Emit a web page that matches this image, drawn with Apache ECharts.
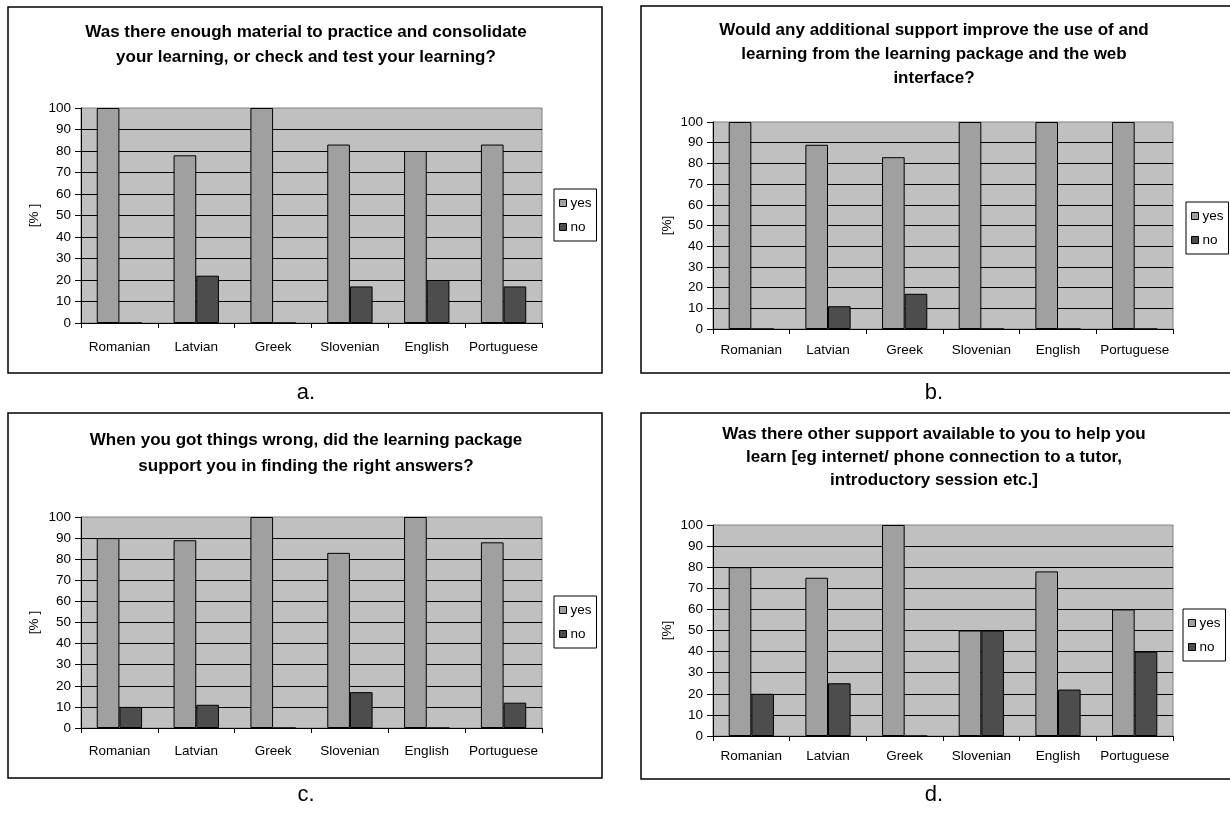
<!DOCTYPE html>
<html><head><meta charset="utf-8">
<script src="https://cdn.jsdelivr.net/npm/echarts@6/dist/echarts.min.js"></script>
<style>html,body{margin:0;padding:0;background:#fff}#c{width:1230px;height:813px}</style>
</head><body><div id="c"></div>
<script>
// ---- data ----
const categories = ['Romanian', 'Latvian', 'Greek', 'Slovenian', 'English', 'Portuguese'];
const seriesNames = ['yes', 'no'];
const yesA = [100, 78, 100, 83, 80, 83];
const noA  = [0, 22, 0, 17, 20, 17];
const yesB = [100, 89, 83, 100, 100, 100];
const noB  = [0, 11, 17, 0, 0, 0];
const yesC = [90, 89, 100, 83, 100, 88];
const noC  = [10, 11, 0, 17, 0, 12];
const yesD = [80, 75, 100, 50, 78, 60];
const noD  = [20, 25, 0, 50, 22, 40];
const titleA = 'Was there enough material to practice and consolidate\nyour learning, or check and test your learning?';
const titleB = 'Would any additional support improve the use of and\nlearning from the learning package and the web\ninterface?';
const titleC = 'When you got things wrong, did the learning package\nsupport you in finding the right answers?';
const titleD = 'Was there other support available to you to help you\nlearn [eg internet/ phone connection to a tutor,\nintroductory session etc.]';
const panelLabels = ['a.', 'b.', 'c.', 'd.'];
const yAxisNames = ['[% ]', '[%]', '[% ]', '[%]'];
const yMin = 0, yMax = 100, yStep = 10;

// ---- layout / style ----
const FONT = '"Liberation Sans", Arial, sans-serif';
const LBL = 13.5;
const panels = [
  { yes: yesA, no: noA, title: titleA, grid: {left: 81, top: 108, width: 461, height: 215},
    box: [8, 7, 594, 366], tx: 306, ttop: 20, tlh: 25, lg: [554, 189], lab: [306, 393], xm: 17, ng: 40 },
  { yes: yesB, no: noB, title: titleB, grid: {left: 713, top: 122, width: 460, height: 207},
    box: [641, 6, 600, 367], tx: 934, ttop: 18, tlh: 24, lg: [1186, 202], lab: [934, 393], xm: 14, ng: 39 },
  { yes: yesC, no: noC, title: titleC, grid: {left: 81, top: 517, width: 461, height: 211},
    box: [8, 413, 594, 365], tx: 306, ttop: 427, tlh: 26, lg: [554, 596], lab: [306, 795], xm: 16, ng: 40 },
  { yes: yesD, no: noD, title: titleD, grid: {left: 713, top: 525, width: 460, height: 211},
    box: [641, 413, 600, 366], tx: 934, ttop: 423, tlh: 23, lg: [1183, 609], lab: [934, 795], xm: 13, ng: 39 }
];
const YES_COLOR = '#a0a0a0', NO_COLOR = '#4d4d4d';

const option = {
  animation: false,
  backgroundColor: '#ffffff',
  title: [], grid: [], xAxis: [], yAxis: [], series: [], legend: [], graphic: []
};

panels.forEach((p, i) => {
  option.title.push({
    text: p.title, left: p.tx, top: p.ttop, textAlign: 'center', padding: 0,
    textStyle: { fontFamily: FONT, fontWeight: 'bold', fontSize: 17, lineHeight: p.tlh, color: '#000' }
  });
  option.grid.push(Object.assign({
    show: true, backgroundColor: '#c0c0c0', borderColor: '#808080', borderWidth: 1,
    containLabel: false, outerBoundsMode: 'none'
  }, p.grid));
  option.xAxis.push({
    type: 'category', gridIndex: i, data: categories, boundaryGap: true,
    axisLine: { show: true, lineStyle: { color: '#000', width: 1 } },
    axisTick: { show: true, alignWithLabel: false, length: 5, inside: false, lineStyle: { color: '#000' } },
    axisLabel: { interval: 0, margin: p.xm, fontFamily: FONT, fontSize: LBL, color: '#000', hideOverlap: false },
    splitLine: { show: false }
  });
  option.yAxis.push({
    type: 'value', gridIndex: i, min: yMin, max: yMax, interval: yStep,
    name: yAxisNames[i], nameLocation: 'middle', nameGap: p.ng, nameRotate: 90,
    nameTextStyle: { fontFamily: FONT, fontSize: LBL, color: '#000' },
    axisLine: { show: true, lineStyle: { color: '#000', width: 1 } },
    axisTick: { show: true, length: 6, inside: false, lineStyle: { color: '#000' } },
    axisLabel: { margin: 10, fontFamily: FONT, fontSize: LBL, color: '#000' },
    splitLine: { show: true, showMinLine: false, showMaxLine: false, lineStyle: { color: '#000', width: 1 } }
  });
  option.series.push({
    name: seriesNames[0], type: 'bar', xAxisIndex: i, yAxisIndex: i, data: p.yes,
    barGap: '0%', barCategoryGap: '41%',
    itemStyle: { color: YES_COLOR, borderColor: '#000', borderWidth: 1 }
  });
  option.series.push({
    name: seriesNames[1], type: 'bar', xAxisIndex: i, yAxisIndex: i, data: p.no,
    barGap: '0%', barCategoryGap: '41%',
    itemStyle: { color: NO_COLOR, borderColor: '#000', borderWidth: 1 }
  });
  option.legend.push({
    data: seriesNames, left: p.lg[0], top: p.lg[1], orient: 'vertical',
    padding: [7, 5, 7, 5], itemGap: 10, itemWidth: 7, itemHeight: 7, icon: 'rect',
    borderColor: '#000', borderWidth: 1, backgroundColor: '#fff', selectedMode: false,
    itemStyle: { borderColor: '#000', borderWidth: 1 },
    textStyle: { fontFamily: FONT, fontSize: LBL, color: '#000', padding: [0, 0, 0, -1] }
  });
  option.graphic.push({
    type: 'rect', silent: true, z: -1,
    shape: { x: p.box[0], y: p.box[1], width: p.box[2], height: p.box[3] },
    style: { fill: 'none', stroke: '#000', lineWidth: 1.5 }
  });
  option.graphic.push({
    type: 'text', silent: true, x: p.lab[0], y: p.lab[1],
    style: { text: panelLabels[i], fontFamily: FONT, fontSize: 22, fill: '#000',
             textAlign: 'center', textVerticalAlign: 'middle' }
  });
});

const chart = echarts.init(document.getElementById('c'), null, { renderer: 'canvas' });
chart.setOption(option);
</script>
</body></html>
